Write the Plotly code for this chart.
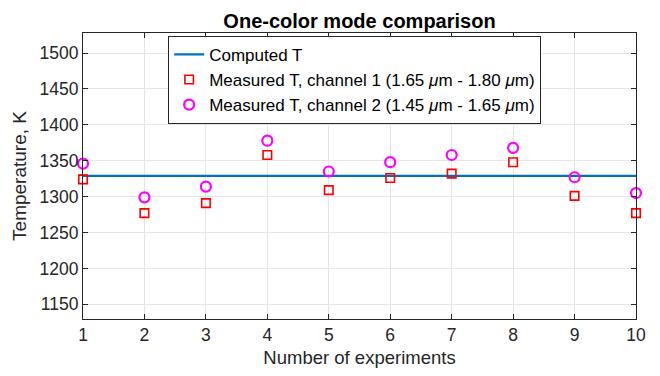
import plotly.graph_objects as go

experiments = [1, 2, 3, 4, 5, 6, 7, 8, 9, 10]
computed_t = [1329] * 10
measured_ch1 = [1324, 1277, 1291, 1358, 1309, 1326, 1332, 1348, 1301, 1277]
measured_ch2 = [1346, 1299, 1314, 1378, 1335, 1348, 1358, 1368, 1327, 1305]

x_ticks = list(range(1, 11))
y_ticks = list(range(1150, 1501, 50))

axis_color = "#262626"
font_family = "Liberation Sans, Arial, sans-serif"

fig = go.Figure()
fig.add_trace(go.Scatter(
    x=experiments, y=computed_t, mode="lines", name="Computed T",
    line=dict(color="#0072BD", width=2.2),
))
fig.add_trace(go.Scatter(
    x=experiments, y=measured_ch1, mode="markers",
    name="Measured T, channel 1 (1.65 <i>μ</i>m - 1.80 <i>μ</i>m)",
    marker=dict(symbol="square-open", size=8.5, color="#FF0000",
                line=dict(width=1.6, color="#FF0000")),
    cliponaxis=False,
))
fig.add_trace(go.Scatter(
    x=experiments, y=measured_ch2, mode="markers",
    name="Measured T, channel 2 (1.45 <i>μ</i>m - 1.65 <i>μ</i>m)",
    marker=dict(symbol="circle-open", size=10, color="#FF00FF",
                line=dict(width=2.2, color="#FF00FF")),
    cliponaxis=False,
))

axis_common = dict(
    showline=True, linecolor=axis_color, linewidth=1.2, mirror="allticks",
    ticks="inside", ticklen=5, tickcolor=axis_color, tickwidth=1,
    showgrid=True, gridcolor="#E6E6E6", gridwidth=1, zeroline=False,
    tickfont=dict(size=17.5, color=axis_color, family=font_family),
)

fig.update_xaxes(
    range=[1, 10], tickvals=x_ticks,
    title=dict(text="Number of experiments", standoff=6,
               font=dict(size=18.5, color=axis_color, family=font_family)),
    **axis_common,
)
fig.update_yaxes(
    range=[1129.5, 1528], tickvals=y_ticks,
    title=dict(text="Temperature, K", standoff=7,
               font=dict(size=19, color=axis_color, family=font_family)),
    **axis_common,
)

fig.update_layout(
    width=660, height=376,
    margin=dict(l=83, r=24, t=33, b=52),
    paper_bgcolor="white", plot_bgcolor="white",
    font=dict(family=font_family, color=axis_color),
    title=dict(text="<b>One-color mode comparison</b>", x=0.5, xref="paper",
               xanchor="center", y=0.945, yanchor="middle",
               font=dict(size=20, color="black", family=font_family)),
    legend=dict(
        x=0.154, y=0.99, xanchor="left", yanchor="top",
        bgcolor="white", bordercolor=axis_color, borderwidth=1,
        font=dict(size=17, color="black", family=font_family),
        tracegroupgap=0,
    ),
    showlegend=True,
)

fig.write_html("out.html")
